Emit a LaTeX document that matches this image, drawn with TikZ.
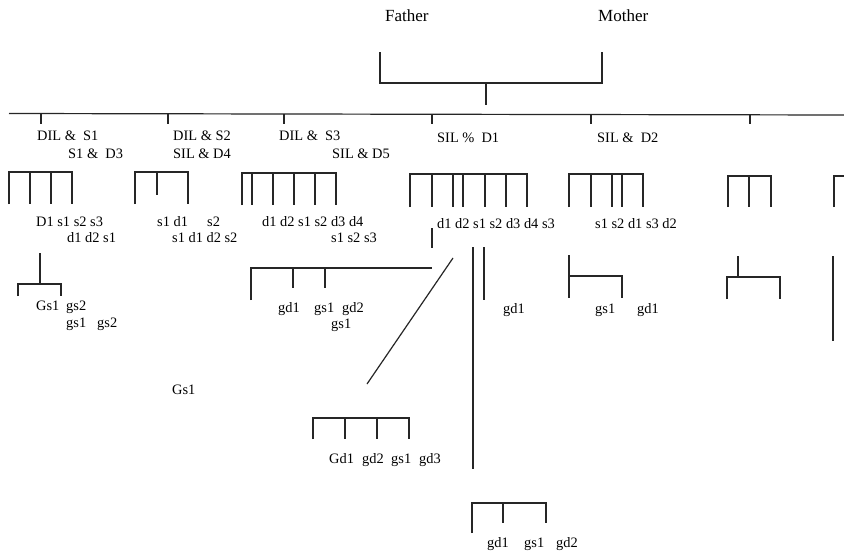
\documentclass[tikz,border=0pt]{standalone}
\usepackage{fontspec}
\setmainfont{Liberation Serif}
\begin{document}
\begin{tikzpicture}[x=1pt,y=-1pt,
  ln/.style={line width=1.2pt, draw=black!85, line cap=butt},
  lbl/.style={anchor=base west, inner sep=0pt, font=\fontsize{14.4}{16}\selectfont},
  big/.style={anchor=base west, inner sep=0pt, font=\fontsize{17}{19}\selectfont}]
\useasboundingbox[fill=white] (0,0) rectangle (844,554);

% parents
\node[big] (father) at (385,21) {Father};
\node[big] (mother) at (598,21) {Mother};
\draw[ln] (380,52)--(380,83)--(602,83)--(602,52);
\draw[ln] (486,83)--(486,105);

% main line and ticks
\draw[ln] (9,113.5)--(844,115);
\foreach \x in {41,168,284,432,591,750} \draw[ln] (\x,114)--(\x,124);

% couples
\node[lbl] (c1a) at (37,140) {DIL \&\ \ S1};
\node[lbl] (c1b) at (68,158) {S1 \&\ \ D3};
\node[lbl] (c2a) at (173,140) {DIL \& S2};
\node[lbl] (c2b) at (173,158) {SIL \& D4};
\node[lbl] (c3a) at (279,140) {DIL \&\ \ S3};
\node[lbl] (c3b) at (332,158) {SIL \& D5};
\node[lbl] (c4a) at (437,142) {SIL \%\ \ D1};
\node[lbl] (c5a) at (597,142) {SIL \&\ \ D2};

% children combs
\draw[ln] (9,204)--(9,172)--(72,172)--(72,204);
\foreach \x in {30,51} \draw[ln] (\x,172)--(\x,204);
\draw[ln] (135,204)--(135,172)--(188,172)--(188,204);
\draw[ln] (157,172)--(157,195);
\draw[ln] (242,205)--(242,173)--(336,173)--(336,205);
\foreach \x in {252,273,294,315} \draw[ln] (\x,173)--(\x,205);
\draw[ln] (410,207)--(410,174)--(527,174)--(527,207);
\foreach \x in {432,453,463,485,506} \draw[ln] (\x,174)--(\x,207);
\draw[ln] (569,207)--(569,174)--(643,174)--(643,207);
\foreach \x in {591,612,622} \draw[ln] (\x,174)--(\x,207);
\draw[ln] (728,207)--(728,176)--(771,176)--(771,207);
\draw[ln] (749,176)--(749,207);
\draw[ln] (834,207)--(834,176)--(844,176);

% children labels
\node[lbl] (k1a) at (36,226) {D1 s1 s2 s3};
\node[lbl] (k1b) at (67,242) {d1 d2 s1};
\node[lbl] (k2a) at (157,226) {s1 d1};
\node[lbl] (k2c) at (207,226) {s2};
\node[lbl] (k2b) at (172,242) {s1 d1 d2 s2};
\node[lbl] (k3a) at (262,226) {d1 d2 s1 s2 d3 d4};
\node[lbl] (k3b) at (331,242) {s1 s2 s3};
\node[lbl] (k4a) at (437,228) {d1 d2 s1 s2 d3 d4 s3};
\node[lbl] (k5a) at (595,228) {s1 s2 d1 s3 d2};

% grandchildren lines
\draw[ln] (40,253)--(40,284);
\draw[ln] (18,296)--(18,284)--(61,284)--(61,296);
\draw[ln] (432,228)--(432,248);
\draw[ln] (251,300)--(251,268)--(432,268);
\draw[ln] (293,268)--(293,288);
\draw[ln] (325,268)--(325,288);
\draw[ln] (453,258)--(367,384);
\draw[ln] (473,247)--(473,469);
\draw[ln] (484,247)--(484,300);
\draw[ln] (569,255)--(569,298);
\draw[ln] (569,276)--(622,276)--(622,298);
\draw[ln] (738,256)--(738,277);
\draw[ln] (727,299)--(727,277)--(780,277)--(780,299);
\draw[ln] (833,256)--(833,341);
\draw[ln] (313,439)--(313,418)--(409,418)--(409,439);
\foreach \x in {345,377} \draw[ln] (\x,418)--(\x,439);
\draw[ln] (472,533)--(472,503)--(546,503)--(546,523);
\draw[ln] (503,503)--(503,523);

% grandchildren labels
\node[lbl] (g1) at (36,310) {Gs1};
\node[lbl] (g2) at (66,310) {gs2};
\node[lbl] (g3) at (66,327) {gs1};
\node[lbl] (g4) at (97,327) {gs2};
\node[lbl] (g5) at (278,312) {gd1};
\node[lbl] (g6) at (314,312) {gs1};
\node[lbl] (g7) at (342,312) {gd2};
\node[lbl] (g8) at (331,328) {gs1};
\node[lbl] (g9) at (503,313) {gd1};
\node[lbl] (g10) at (595,313) {gs1};
\node[lbl] (g11) at (637,313) {gd1};
\node[lbl] (g12) at (172,394) {Gs1};
\node[lbl] (g13) at (329,463) {Gd1};
\node[lbl] (g14) at (362,463) {gd2};
\node[lbl] (g15) at (391,463) {gs1};
\node[lbl] (g16) at (419,463) {gd3};
\node[lbl] (g17) at (487,547) {gd1};
\node[lbl] (g18) at (524,547) {gs1};
\node[lbl] (g19) at (556,547) {gd2};
\end{tikzpicture}
\end{document}
